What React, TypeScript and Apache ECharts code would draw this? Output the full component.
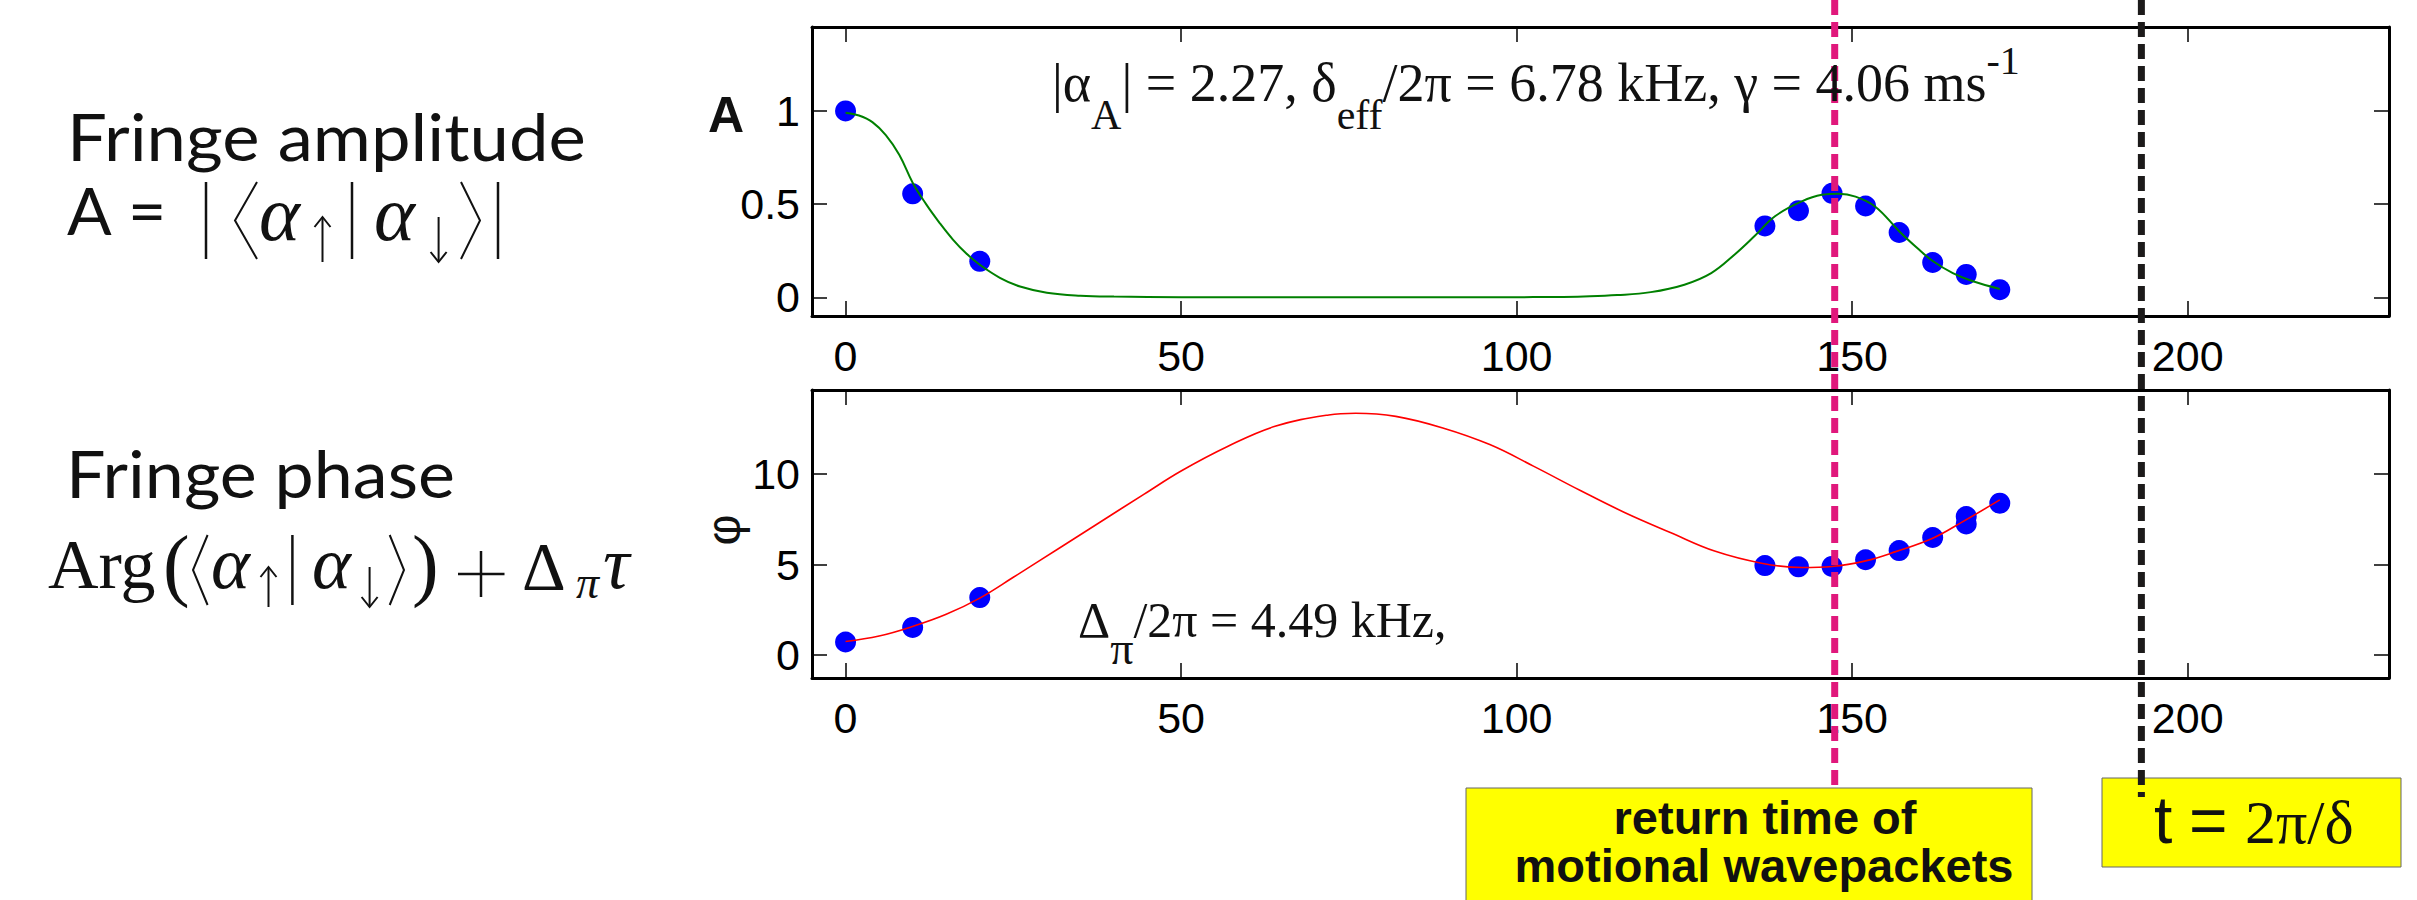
import React, { useEffect, useRef } from 'react';
import * as echarts from 'echarts';

const SERIF = '"Liberation Serif", "Times New Roman", serif';
const SANS = '"Liberation Sans", Arial, Helvetica, sans-serif';
const ROUND = 'Lato, "Noto Sans", "DejaVu Sans", sans-serif';
const INK = '#111111';

// Interaction time τ (μs) axis
const timeTicks = [0, 50, 100, 150, 200];
const timeRange = [-5, 230];

// Fringe amplitude A
const ampTicks = [0, 0.5, 1];
const ampRange = [-0.1, 1.45];
const ampTimes = [0, 10, 20, 137, 142, 147, 152, 157, 162, 167, 172];
const ampValues = [1.0, 0.555, 0.193, 0.383, 0.465, 0.558, 0.49, 0.348, 0.187, 0.123, 0.041];
const ampFitTimes = [
  0, 2, 4, 6, 8, 10, 12, 14, 16, 18, 20, 23, 26, 30, 35, 40, 50, 60, 70, 80, 90, 100, 105, 110,
  115, 120, 125, 129, 132.5, 135.5, 138.5, 142.5, 145.5, 148, 150.5, 153.5, 157, 160, 162, 165, 168, 172,
];
const ampFitValues = [
  0.99, 0.975, 0.94, 0.87, 0.765, 0.615, 0.5, 0.4, 0.31, 0.235, 0.175, 0.105, 0.058, 0.025, 0.009, 0.004,
  0.001, 0, 0, 0, 0, 0.001, 0.002, 0.005, 0.012, 0.028, 0.068, 0.13, 0.23, 0.33, 0.435, 0.515, 0.55, 0.556,
  0.54, 0.485, 0.355, 0.255, 0.195, 0.13, 0.086, 0.045,
];

// Fringe phase φ
const phaseTicks = [0, 5, 10];
const phaseRange = [-1.27, 14.66];
const phaseTimes = [0, 10, 20, 137, 142, 147, 152, 157, 162, 167, 167, 172];
const phaseValues = [0.72, 1.53, 3.18, 4.95, 4.88, 4.9, 5.27, 5.78, 6.5, 7.66, 7.25, 8.4];
const phaseFitTimes = [
  0, 5, 10, 15, 20, 25, 32, 37.5, 44.5, 50, 57, 64, 72, 76, 82, 89, 96, 102.5, 109.5, 116, 123, 129.5,
  136.5, 142.5, 147, 152, 156.5, 162, 166.5, 172,
];
const phaseFitValues = [
  0.75, 1.05, 1.58, 2.25, 3.15, 4.3, 5.95, 7.25, 8.9, 10.18, 11.55, 12.65, 13.28, 13.37, 13.2, 12.56, 11.64,
  10.45, 9.1, 7.9, 6.76, 5.75, 5.08, 4.84, 4.9, 5.21, 5.72, 6.46, 7.38, 8.58,
];

// Marked times (μs)
const returnTime = 147.4;
const revivalTime = 193.1;

const pairs = (xs: number[], ys: number[]) => xs.map((x, i) => [x, ys[i]]);

type Piece = {
  text: string;
  size: number;
  family?: string;
  italic?: boolean;
  bold?: boolean;
  dy?: number; // baseline shift, positive = down
  x?: number; // absolute left edge; otherwise follows the previous piece
};

let ctx2d: CanvasRenderingContext2D | null = null;

function fontOf(p: Piece) {
  return `${p.italic ? 'italic ' : ''}${p.bold ? 'bold ' : ''}${p.size}px ${p.family ?? SERIF}`;
}

function measure(p: Piece) {
  if (!ctx2d) ctx2d = document.createElement('canvas').getContext('2d');
  const font = fontOf(p);
  if (!ctx2d) return { font, width: p.text.length * p.size * 0.5, central: p.size * 0.34 };
  ctx2d.font = font;
  const m = ctx2d.measureText(p.text);
  const asc = m.fontBoundingBoxAscent || p.size * 0.9;
  const desc = m.fontBoundingBoxDescent || p.size * 0.22;
  return { font, width: m.width, central: (asc - desc) / 2 };
}

// Lays out a run of text pieces on a common baseline.
function typeset(
  pieces: Piece[],
  x0: number,
  baseline: number,
  opts: { center?: boolean; fitWidth?: number; z?: number } = {}
) {
  const ms = pieces.map(measure);
  const total = ms.reduce((s, m) => s + m.width, 0);
  const scale = opts.fitWidth ? opts.fitWidth / total : 1;
  let x = opts.center ? x0 - (total * scale) / 2 : x0;
  return pieces.map((p, i) => {
    if (p.x !== undefined) x = p.x;
    const el = {
      type: 'text',
      z: opts.z ?? 120,
      silent: true,
      x,
      y: baseline + (p.dy ?? 0) - ms[i].central,
      scaleX: scale,
      style: {
        text: p.text,
        x: 0,
        y: 0,
        font: ms[i].font,
        fill: INK,
        align: 'left',
        verticalAlign: 'middle',
        textAlign: 'left',
        textVerticalAlign: 'middle',
      },
    };
    x += ms[i].width * scale;
    return el;
  });
}

const stroke = (w: number) => ({ stroke: INK, lineWidth: w, fill: 'none' });

function seg(x1: number, y1: number, x2: number, y2: number, w = 2.5) {
  return { type: 'line', z: 120, silent: true, shape: { x1, y1, x2, y2 }, style: stroke(w) };
}

function poly(points: number[][], w = 2) {
  return { type: 'polyline', z: 120, silent: true, shape: { points }, style: stroke(w) };
}

function arrow(cx: number, yTop: number, yBottom: number, up: boolean) {
  const head = up ? yTop : yBottom;
  const back = up ? yTop + 10 : yBottom - 10;
  return [seg(cx, yTop, cx, yBottom, 2), poly([[cx - 8, back], [cx, head], [cx + 8, back]], 2)];
}

function bra(xTip: number, xOpen: number, yTop: number, yBottom: number) {
  return poly([[xOpen, yTop], [xTip, (yTop + yBottom) / 2], [xOpen, yBottom]], 2);
}

function buildOption() {
  const xAxes = [0, 1].flatMap((gridIndex) => {
    const common = {
      type: 'value',
      gridIndex,
      min: timeRange[0],
      max: timeRange[1],
      splitLine: { show: false },
      axisLine: { show: true, onZero: false, lineStyle: { color: '#000', width: 3 } },
      axisTick: { show: true, inside: true, length: 15, customValues: timeTicks, lineStyle: { color: '#000', width: 1.5 } },
    };
    return [
      {
        ...common,
        position: 'bottom',
        axisLabel: { show: true, customValues: timeTicks, margin: 18, color: '#000', fontSize: 43, fontFamily: SANS },
      },
      { ...common, position: 'top', axisLabel: { show: false } },
    ];
  });

  const yAxes = [
    { gridIndex: 0, range: ampRange, ticks: ampTicks },
    { gridIndex: 1, range: phaseRange, ticks: phaseTicks },
  ].flatMap(({ gridIndex, range, ticks }) => {
    const common = {
      type: 'value',
      gridIndex,
      min: range[0],
      max: range[1],
      splitLine: { show: false },
      axisLine: { show: true, onZero: false, lineStyle: { color: '#000', width: 3 } },
      axisTick: { show: true, inside: true, length: 15, customValues: ticks, lineStyle: { color: '#000', width: 1.5 } },
    };
    return [
      {
        ...common,
        position: 'left',
        axisLabel: { show: true, customValues: ticks, margin: 12, color: '#000', fontSize: 43, fontFamily: SANS },
      },
      { ...common, position: 'right', axisLabel: { show: false } },
    ];
  });

  const dots = { color: '#0000ff', opacity: 1 };

  return {
    animation: false,
    backgroundColor: '#ffffff',
    grid: [
      { left: 812, top: 27, width: 1577, height: 289, containLabel: false, outerBoundsMode: 'none' },
      { left: 812, top: 390, width: 1577, height: 288, containLabel: false, outerBoundsMode: 'none' },
    ],
    xAxis: xAxes,
    yAxis: yAxes,
    series: [
      {
        name: 'A data',
        type: 'scatter',
        xAxisIndex: 0,
        yAxisIndex: 0,
        data: pairs(ampTimes, ampValues),
        symbol: 'circle',
        symbolSize: 21,
        itemStyle: dots,
        z: 2,
      },
      {
        name: 'A fit',
        type: 'line',
        xAxisIndex: 0,
        yAxisIndex: 0,
        data: pairs(ampFitTimes, ampFitValues),
        showSymbol: false,
        smooth: 0.4,
        lineStyle: { color: '#008000', width: 2 },
        z: 3,
      },
      {
        name: 'phi data',
        type: 'scatter',
        xAxisIndex: 2,
        yAxisIndex: 2,
        data: pairs(phaseTimes, phaseValues),
        symbol: 'circle',
        symbolSize: 21,
        itemStyle: dots,
        z: 2,
      },
      {
        name: 'phi fit',
        type: 'line',
        xAxisIndex: 2,
        yAxisIndex: 2,
        data: pairs(phaseFitTimes, phaseFitValues),
        showSymbol: false,
        smooth: 0.4,
        lineStyle: { color: '#ff0000', width: 1.6 },
        z: 3,
      },
    ],
  };
}

function buildGraphics(chart: echarts.ECharts) {
  const xReturn = chart.convertToPixel({ xAxisIndex: 0 }, returnTime) as number;
  const xRevival = chart.convertToPixel({ xAxisIndex: 0 }, revivalTime) as number;

  const els: any[] = [];

  // Left-hand descriptions
  els.push(...typeset([{ text: 'Fringe amplitude', size: 66, family: ROUND }], 67, 161, { fitWidth: 519 }));
  els.push(...typeset([{ text: 'A', size: 66, family: ROUND }], 67, 235));
  els.push(...typeset([{ text: '=', size: 66, family: ROUND }], 128, 235));
  els.push(seg(206, 182, 206, 259), seg(352, 182, 352, 259), seg(498, 182, 498, 259));
  els.push(bra(235, 257, 182, 259), bra(480, 461, 182, 259));
  els.push(...typeset([{ text: 'α', size: 78, italic: true }], 259, 240));
  els.push(...typeset([{ text: 'α', size: 78, italic: true }], 374, 240));
  els.push(...arrow(322.5, 217, 262, true), ...arrow(438.6, 217, 262, false));

  els.push(...typeset([{ text: 'Fringe phase', size: 65, family: ROUND }], 66, 497, { fitWidth: 389 }));
  els.push(...typeset([{ text: 'Arg', size: 70 }], 48, 588));
  els.push(...typeset([{ text: '(', size: 80 }], 163, 591));
  els.push(...typeset([{ text: ')', size: 80 }], 412, 591));
  els.push(bra(193, 207.6, 535, 605), bra(404, 389.7, 535, 605));
  els.push(...typeset([{ text: 'α', size: 74, italic: true }], 211, 588));
  els.push(...typeset([{ text: 'α', size: 74, italic: true }], 312, 588));
  els.push(...arrow(268.5, 567, 607, true), ...arrow(369.6, 567, 607, false));
  els.push(seg(292.4, 535, 292.4, 605));
  els.push(seg(458, 574, 504.5, 574, 2.5), seg(481, 551, 481, 597, 2.5));
  els.push(...typeset([{ text: 'Δ', size: 68 }], 522, 588.5));
  els.push(...typeset([{ text: 'π', size: 46, italic: true }], 576, 598));
  els.push(...typeset([{ text: 'τ', size: 74, italic: true }], 603, 588));

  // Axis names
  els.push(...typeset([{ text: 'A', size: 50, family: SANS, bold: true }], 726, 132, { center: true }));
  els.push({
    type: 'text',
    z: 120,
    silent: true,
    x: 723,
    y: 530,
    rotation: Math.PI / 2,
    style: {
      text: 'φ',
      x: 0,
      y: 0,
      font: `48px ${SANS}`,
      fill: INK,
      align: 'center',
      verticalAlign: 'middle',
      textAlign: 'center',
      textVerticalAlign: 'middle',
    },
  });

  // Fit parameters
  els.push(
    ...typeset(
      [
        { text: '|α', size: 54 },
        { text: 'A', size: 42, dy: 27.5 },
        { text: '| = 2.27, δ', size: 54 },
        { text: 'eff', size: 42, dy: 27.5 },
        { text: '/2π = 6.78 kHz, γ = 4.06 ms', size: 54 },
        { text: '-1', size: 40, dy: -27.5 },
      ],
      1052,
      101
    )
  );
  els.push(
    ...typeset(
      [
        { text: 'Δ', size: 50 },
        { text: 'π', size: 46, dy: 27 },
        { text: '/2π = 4.49 kHz,', size: 50 },
      ],
      1078,
      637
    )
  );

  // Marked times and their captions
  els.push({
    type: 'line',
    z: 99,
    silent: true,
    shape: { x1: xReturn, y1: 0, x2: xReturn, y2: 900 },
    style: { stroke: '#e0187c', lineWidth: 7, lineDash: [15, 7] },
  });
  els.push({
    type: 'rect',
    z: 100,
    silent: true,
    shape: { x: 1466, y: 788, width: 566, height: 130 },
    style: { fill: '#ffff00', stroke: '#666666', lineWidth: 1 },
  });
  els.push({
    type: 'rect',
    z: 100,
    silent: true,
    shape: { x: 2102, y: 778, width: 299, height: 89 },
    style: { fill: '#ffff00', stroke: '#666666', lineWidth: 1 },
  });
  els.push({
    type: 'line',
    z: 101,
    silent: true,
    shape: { x1: xRevival, y1: 0, x2: xRevival, y2: 797 },
    style: { stroke: '#1c1a1a', lineWidth: 7, lineDash: [15, 7] },
  });
  els.push(...typeset([{ text: 'return time of', size: 47, family: SANS, bold: true }], 1765, 833.5, { center: true }));
  els.push(
    ...typeset([{ text: 'motional wavepackets', size: 47, family: SANS, bold: true }], 1764, 881.7, { center: true })
  );
  els.push(...typeset([{ text: 't', size: 66, family: SANS }], 2154, 843.3));
  els.push(...typeset([{ text: '=', size: 66, family: SANS }], 2189, 843.3));
  els.push(...typeset([{ text: '2π/δ', size: 62 }], 2245, 843.3));

  return els;
}

export default function App() {
  const ref = useRef<HTMLDivElement>(null);

  useEffect(() => {
    if (!ref.current) return;
    const chart = echarts.init(ref.current, null, { renderer: 'svg' });
    chart.setOption(buildOption() as any);
    chart.setOption({ graphic: buildGraphics(chart) } as any);
    return () => chart.dispose();
  }, []);

  return (
    <div
      ref={ref}
      style={{ position: 'absolute', left: 0, top: 0, width: 2417, height: 900, background: '#ffffff' }}
    />
  );
}
